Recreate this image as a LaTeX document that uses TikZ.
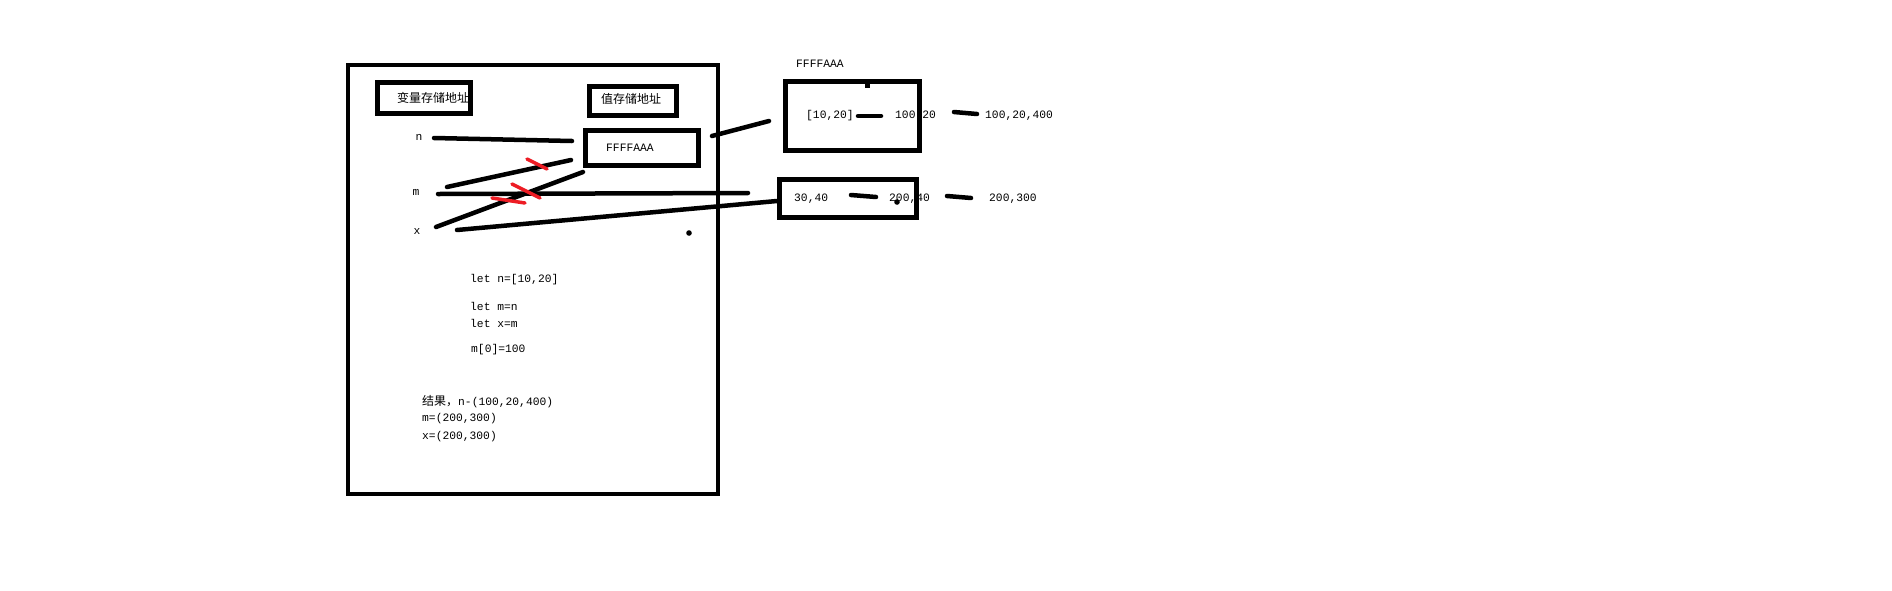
\documentclass[tikz,border=0pt]{standalone}
\usepackage{fontspec}
\setmonofont{Liberation Mono}
\newfontfamily\cjk{Noto Sans CJK SC}
\begin{document}
\begin{tikzpicture}[x=1pt,y=-1pt,
  box/.style={draw=black,line width=5pt,inner sep=0pt,fill=none},
  lbl/.style={inner sep=0pt,anchor=west,font=\fontsize{11.3}{13}\ttfamily},
  cn/.style={inner sep=0pt,anchor=west,font=\fontsize{12}{14}\cjk},
  stroke/.style={line width=4.5pt,line cap=round,black},
  redmark/.style={line width=3.5pt,line cap=round,draw={rgb,255:red,237;green,28;blue,36}},
  dashmark/.style={line width=4.5pt,line cap=round,black}]
\fill[white] (0,0) rectangle (1892,590);
\useasboundingbox (0,0) rectangle (1892,590);
% boxes
\node[box,line width=4.5pt,minimum width=370pt,minimum height=429pt] (main) at (533,279.5) {};
\node[box,minimum width=93pt,minimum height=31pt] (varbox) at (424,98) {};
\node[box,minimum width=87pt,minimum height=29pt] (valbox) at (633,101) {};
\node[box,minimum width=113pt,minimum height=35pt] (addrbox) at (642,148) {};
\node[box,minimum width=134pt,minimum height=69pt] (heapA) at (852.5,116) {};
\node[box,minimum width=137pt,minimum height=38pt] (heapB) at (848,198.5) {};
\fill[black] (864.5,82) rectangle (869.5,88);
% texts
\node[cn] (tvar) at (397,98) {变量存储地址};
\node[cn] (tval) at (601,99) {值存储地址};
\node[lbl] (taddr) at (606,148) {FFFFAAA};
\node[lbl,anchor=center] (vn) at (419,137) {n};
\node[lbl,anchor=center] (vm) at (416,192) {m};
\node[lbl,anchor=center] (vx) at (417,232) {x};
\node[lbl] (taddr2) at (796,64) {FFFFAAA};
\node[lbl] (a1) at (806,116) {[10,20]};
\node[lbl] (a2) at (895,116) {100,20};
\node[lbl] (a3) at (985,116) {100,20,400};
\node[lbl] (b1) at (794,199) {30,40};
\node[lbl] (b2) at (889,199) {200,40};
\node[lbl] (b3) at (989,199) {200,300};
\node[lbl] (c1) at (470,280) {let n=[10,20]};
\node[lbl] (c2) at (470,306) {let m=n};
\node[lbl] (c3) at (470,323) {let x=m};
\node[lbl] (c4) at (471,350) {m[0]=100};
\node[inner sep=0pt,anchor=west] (r1) at (422,402) {{\fontsize{12}{14}\cjk 结果，}{\fontsize{11.3}{13}\ttfamily n-(100,20,400)}};
\node[lbl] (r2) at (422,419) {m=(200,300)};
\node[lbl] (r3) at (422,437) {x=(200,300)};
% connector ends
\coordinate (n0) at (434,138); \coordinate (n1) at (572,141);
\coordinate (m0) at (447,187); \coordinate (m1) at (571,160);
\coordinate (x0) at (436,227); \coordinate (x1) at (583,172);
\coordinate (mh0) at (438,194); \coordinate (mh1) at (748,193);
\coordinate (xl0) at (457,230); \coordinate (xl1) at (777,201);
\coordinate (p0) at (712,136); \coordinate (p1) at (769,121);
\coordinate (d1a) at (858,116); \coordinate (d1b) at (881,116);
\coordinate (d2a) at (954,112); \coordinate (d2b) at (977,114);
\coordinate (d3a) at (851,195); \coordinate (d3b) at (876,197);
\coordinate (d4a) at (947,196); \coordinate (d4b) at (971,198);
\draw[stroke] (n0) -- (n1);
\draw[stroke] (m0) -- (m1);
\draw[stroke] (x0) -- (x1);
\draw[stroke] (mh0) -- (mh1);
\draw[stroke] (xl0) -- (xl1);
\draw[stroke] (p0) -- (p1);
\draw[dashmark] (d1a) -- (d1b);
\draw[dashmark] (d2a) -- (d2b);
\draw[dashmark] (d3a) -- (d3b);
\draw[dashmark] (d4a) -- (d4b);
\fill[black] (689,233) circle (2.8);
\fill[black] (897,202) circle (2.8);
% red marks
\coordinate (r1a) at (527,159); \coordinate (r1b) at (547,169);
\coordinate (r2a) at (512,184); \coordinate (r2b) at (540,198);
\coordinate (r3a) at (492,198); \coordinate (r3b) at (525,203);
\draw[redmark] (r1a) -- (r1b);
\draw[redmark] (r2a) -- (r2b);
\draw[redmark] (r3a) -- (r3b);
\end{tikzpicture}
\end{document}
